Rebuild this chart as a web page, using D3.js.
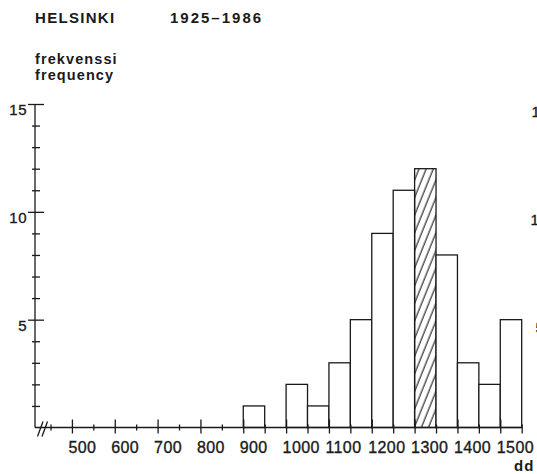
<!DOCTYPE html>
<html>
<head>
<meta charset="utf-8">
<script src="https://cdn.jsdelivr.net/npm/d3@7"></script>
<style>
  html, body { margin: 0; padding: 0; background: #fff; overflow: hidden; }
  svg { display: block; }
  text { font-family: "Liberation Sans", Arial, Helvetica, sans-serif; fill: #1a1a1a; }
  text.num { stroke: #1a1a1a; stroke-width: 0.35px; }
</style>
</head>
<body>
<script>
// Annual degree-day sums, Helsinki 1925-1986: number of years per 50 dd class
const binStarts   = [900, 950, 1000, 1050, 1100, 1150, 1200, 1250, 1300, 1350, 1400, 1450, 1500];
const frequencies = [1,   0,   2,    1,    3,    5,    9,    11,   12,   8,    3,    2,    5];
const highlighted = [1300];              // hatched class
const binWidth = 50;
const xTickLabels = [500, 600, 700, 800, 900, 1000, 1100, 1200, 1300, 1400, 1500];
const yTickLabels = [5, 10, 15];
const titleText = "HELSINKI";
const periodText = "1925–1986";
const yTitleLines = ["frekvenssi", "frequency"];
const xUnitText = "dd";
const neighbourLabels = [15, 10, 5];     // axis labels of the adjacent panel, cut by the edge

const W = 537, H = 474;
const ink = "#1a1a1a";
const sw = 1.3;

const svg = d3.select("body").append("svg").attr("width", W).attr("height", H);

const x = d3.scaleLinear().domain([450, 1550]).range([50.5, 521.7]);
const y = d3.scaleLinear().domain([0, 15]).range([427.5, 104]);
const axisX = 35;

// hatch pattern for the highlighted class
const defs = svg.append("defs");
defs.append("pattern")
  .attr("id", "hatch")
  .attr("patternUnits", "userSpaceOnUse")
  .attr("width", 6.6).attr("height", 10)
  .attr("patternTransform", "rotate(22)")
  .append("line")
  .attr("x1", 3).attr("y1", 0).attr("x2", 3).attr("y2", 10)
  .attr("stroke", ink).attr("stroke-width", 1.1);

// titles
svg.append("text").attr("x", 35).attr("y", 23)
  .style("font-size", "15px").style("font-weight", "bold").style("letter-spacing", "1.3px")
  .text(titleText);
svg.append("text").attr("x", 170).attr("y", 23)
  .style("font-size", "15px").style("font-weight", "bold").style("letter-spacing", "2px")
  .text(periodText);
svg.selectAll("text.ytitle").data(yTitleLines).enter().append("text")
  .attr("class", "ytitle")
  .attr("x", 35).attr("y", (d, i) => 64 + i * 16)
  .style("font-size", "14.5px").style("font-weight", "bold").style("letter-spacing", "1.1px")
  .text(d => d);

// bars
const bars = binStarts.map((s, i) => ({ s, v: frequencies[i] })).filter(d => d.v > 0);
svg.selectAll("rect.bar").data(bars).enter().append("rect")
  .attr("class", "bar")
  .attr("x", d => x(d.s))
  .attr("y", d => y(d.v))
  .attr("width", d => x(d.s + binWidth) - x(d.s))
  .attr("height", d => y(0) - y(d.v))
  .attr("fill", d => highlighted.includes(d.s) ? "url(#hatch)" : "#fff")
  .attr("stroke", ink).attr("stroke-width", sw);

// y axis
const yAxis = d3.axisLeft(y).tickValues(d3.range(1, 16)).tickSize(0).tickFormat("");
const yg = svg.append("g").attr("transform", `translate(${axisX},0)`).call(yAxis);
yg.select(".domain").remove();
svg.append("line").attr("x1", axisX).attr("x2", axisX).attr("y1", y(15)).attr("y2", y(0))
  .attr("stroke", ink).attr("stroke-width", sw);
yg.selectAll(".tick line")
  .attr("x1", d => yTickLabels.includes(d) ? -7 : -3)
  .attr("x2", d => yTickLabels.includes(d) ? 9 : 5)
  .attr("stroke", ink).attr("stroke-width", sw);
svg.selectAll("text.ylab").data(yTickLabels).enter().append("text")
  .attr("class", "ylab num")
  .attr("x", 27).attr("y", d => y(d) + 11)
  .attr("text-anchor", "end")
  .style("font-size", "15px").style("letter-spacing", "0.5px")
  .text(d => d);

// x axis
const xAxis = d3.axisBottom(x).tickValues(d3.range(450, 1551, 50)).tickSize(0).tickFormat("");
const xg = svg.append("g").attr("transform", `translate(0,${y(0)})`).call(xAxis);
xg.select(".domain").remove();
svg.append("line").attr("x1", axisX).attr("x2", x(1550)).attr("y1", y(0)).attr("y2", y(0))
  .attr("stroke", ink).attr("stroke-width", sw);
xg.selectAll(".tick line")
  .attr("y1", d => d % 100 === 0 ? -8 : -3)
  .attr("y2", d => d % 100 === 0 ? 6 : (d >= 900 ? 6 : 3))
  .attr("stroke", ink).attr("stroke-width", sw);
svg.selectAll("text.xlab").data(xTickLabels).enter().append("text")
  .attr("class", "xlab num")
  .attr("x", d => x(d) - 3.5).attr("y", 453)
  .style("font-size", "16px").style("letter-spacing", "0.4px")
  .text(d => d);

// axis break marks
const breakY = y(0);
[0, 4.5].forEach(dx => {
  svg.append("line")
    .attr("x1", 37.5 + dx).attr("y1", breakY + 9)
    .attr("x2", 43 + dx).attr("y2", breakY - 6)
    .attr("stroke", ink).attr("stroke-width", sw);
});

// unit label
svg.append("text").attr("x", 514).attr("y", 471)
  .style("font-size", "15px").style("font-weight", "bold").style("letter-spacing", "1px")
  .text(xUnitText);

// labels of the neighbouring panel running off the right edge
svg.selectAll("text.nb").data(neighbourLabels).enter().append("text")
  .attr("class", "nb num")
  .attr("x", (d, i) => [531.5, 530.5, 535.5][i])
  .attr("y", d => y(d) + 13)
  .style("font-size", "15px")
  .text(d => d);
</script>
</body>
</html>
